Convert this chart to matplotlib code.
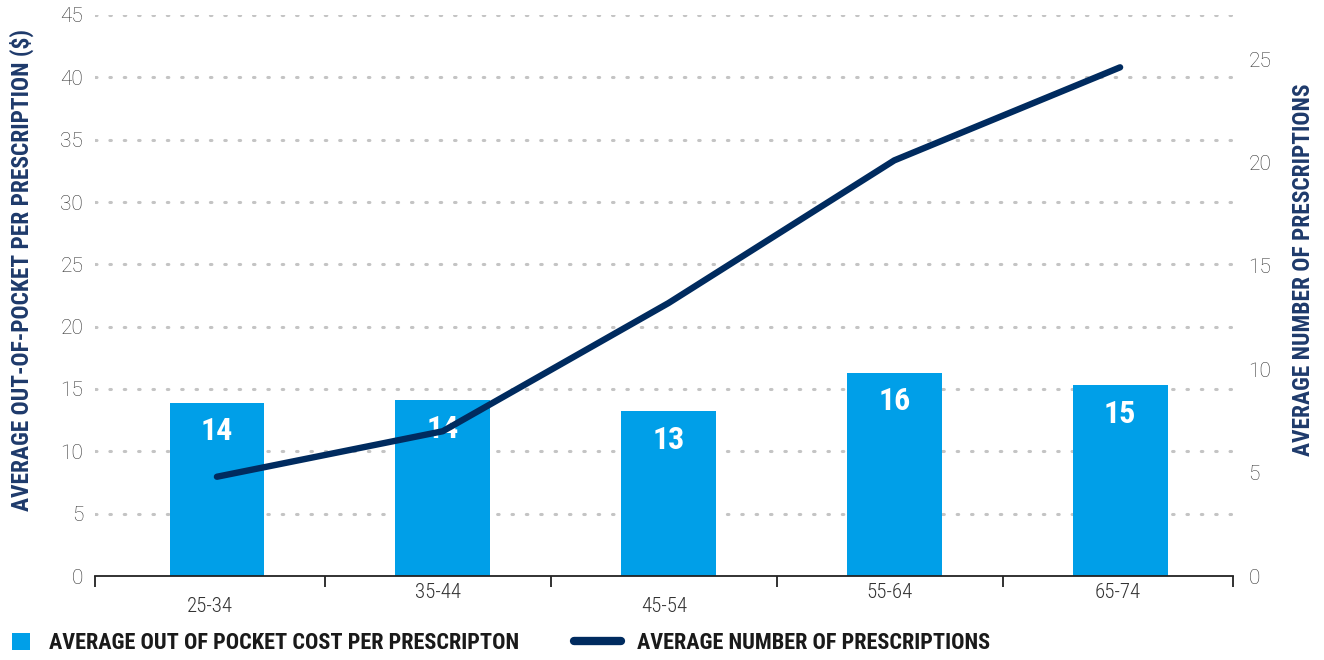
import matplotlib
matplotlib.use("Agg")
import matplotlib.pyplot as plt
from matplotlib import font_manager
from matplotlib.lines import Line2D
from matplotlib.patches import Patch

# ---- data ----
age_groups = ["25-34", "35-44", "45-54", "55-64", "65-74"]
cost_per_rx = [13.9, 14.1, 13.2, 16.3, 15.3]          # $ per prescription (left axis)
num_prescriptions = [4.8, 7.0, 13.2, 20.1, 24.6]      # average count (right axis)
left_ticks = [0, 5, 10, 15, 20, 25, 30, 35, 40, 45]
right_ticks = [0, 5, 10, 15, 20, 25]

# ---- styling ----
BAR_BLUE = "#009FE8"
NAVY = "#002B5F"
LABEL_NAVY = "#1E3A6B"
GRID_GREY = "#C4C4C4"
TEXT = "#333333"

available = {f.name for f in font_manager.fontManager.ttflist}
condensed = next((n for n in ["Roboto Condensed", "Liberation Sans Narrow",
                              "Open Sans Condensed", "DejaVu Sans"] if n in available),
                 "DejaVu Sans")
light = "Roboto" if "Roboto" in available else "DejaVu Sans"

fig = plt.figure(figsize=(13.24, 6.6), dpi=100)
ax = fig.add_axes([95 / 1324, 1 - 576 / 660, (1233 - 95) / 1324, (576 - 15) / 660])
ax2 = ax.twinx()

x = list(range(len(age_groups)))
ax.set_xlim(-0.54, 4.5)
ax.set_ylim(0, 45)
ax2.set_ylim(0, 27.13)

# dotted horizontal grid
for t in left_ticks[1:]:
    ax.axhline(t, color=GRID_GREY, lw=2.2, linestyle=(0, (0.5, 4.2)),
               dash_capstyle="round", zorder=0)

ax.bar(x, cost_per_rx, width=0.42, color=BAR_BLUE, zorder=2)
for xi, v in zip(x, cost_per_rx):
    ax.annotate(f"{v:.0f}", (xi, v), xytext=(0, -20.5), textcoords="offset points",
                ha="center", va="center", color="white", fontsize=23,
                fontweight="bold", family=condensed, zorder=3)

ax2.plot(x, num_prescriptions, color=NAVY, lw=4.6, solid_capstyle="round",
         solid_joinstyle="round", zorder=4)
ax2.set_zorder(ax.get_zorder() + 1)
ax2.patch.set_visible(False)

# spines
for s in ["top", "left", "right"]:
    ax.spines[s].set_visible(False)
    ax2.spines[s].set_visible(False)
ax2.spines["bottom"].set_visible(False)
ax.spines["bottom"].set_color("#222222")
ax.spines["bottom"].set_linewidth(1.3)

# x ticks at category boundaries, labels at category centers
bounds = [-0.54, 0.48, 1.48, 2.48, 3.48, 4.5]
ax.set_xticks(bounds)
ax.set_xticklabels([])
ax.tick_params(axis="x", which="major", length=8, width=1.3, color="#222222",
               direction="out")
label_drop = [30, 16, 30, 16, 16]
for i, (name, drop) in enumerate(zip(age_groups, label_drop)):
    cx = (bounds[i] + bounds[i + 1]) / 2
    ax.annotate(name, (cx, 0), xycoords=("data", "axes fraction"),
                xytext=(0, -drop * 0.72), textcoords="offset points",
                ha="center", va="center", fontsize=15, color=TEXT,
                family=condensed, fontweight="light", annotation_clip=False)

ax.set_yticks(left_ticks)
ax.set_yticklabels([str(t) for t in left_ticks], fontsize=15, color=TEXT,
                   family=light, fontweight="light")
ax.tick_params(axis="y", length=0, pad=8.5)
ax2.set_yticks(right_ticks)
ax2.set_yticklabels([str(t) for t in right_ticks], fontsize=15, color=TEXT,
                    family=light, fontweight="light")
ax2.tick_params(axis="y", length=0, pad=11)

# axis titles
fig.text(22 / 1324, 1 - 270 / 660, "AVERAGE OUT-OF-POCKET PER PRESCRIPTION ($)",
         rotation=90, ha="center", va="center", color=LABEL_NAVY, fontsize=16.8,
         fontweight="bold", family=condensed)
fig.text(1303 / 1324, 1 - 270 / 660, "AVERAGE NUMBER OF PRESCRIPTIONS",
         rotation=90, ha="center", va="center", color=LABEL_NAVY, fontsize=16.8,
         fontweight="bold", family=condensed)

# legend: two entries with different handle shapes
leg_prop = {"family": condensed, "weight": "bold", "size": 16}
leg1 = fig.legend([Patch(facecolor=BAR_BLUE, edgecolor="none")],
                  ["AVERAGE OUT OF POCKET COST PER PRESCRIPTON"],
                  loc="center left", bbox_to_anchor=(8 / 1324, 1 - 643 / 660),
                  frameon=False, handlelength=0.8, handleheight=0.8,
                  handletextpad=0.85, borderaxespad=0, borderpad=0.2, prop=leg_prop)
leg2 = fig.legend([Line2D([0], [0], color=NAVY, lw=6, solid_capstyle="round")],
                  ["AVERAGE NUMBER OF PRESCRIPTIONS"],
                  loc="center left", bbox_to_anchor=(570 / 1324, 1 - 643 / 660),
                  frameon=False, handlelength=2.1, handletextpad=0.7,
                  borderaxespad=0, borderpad=0.2, prop=leg_prop)
for leg in (leg1, leg2):
    for t in leg.get_texts():
        t.set_color("#1A1A1A")

fig.savefig("out.png", dpi=100)
